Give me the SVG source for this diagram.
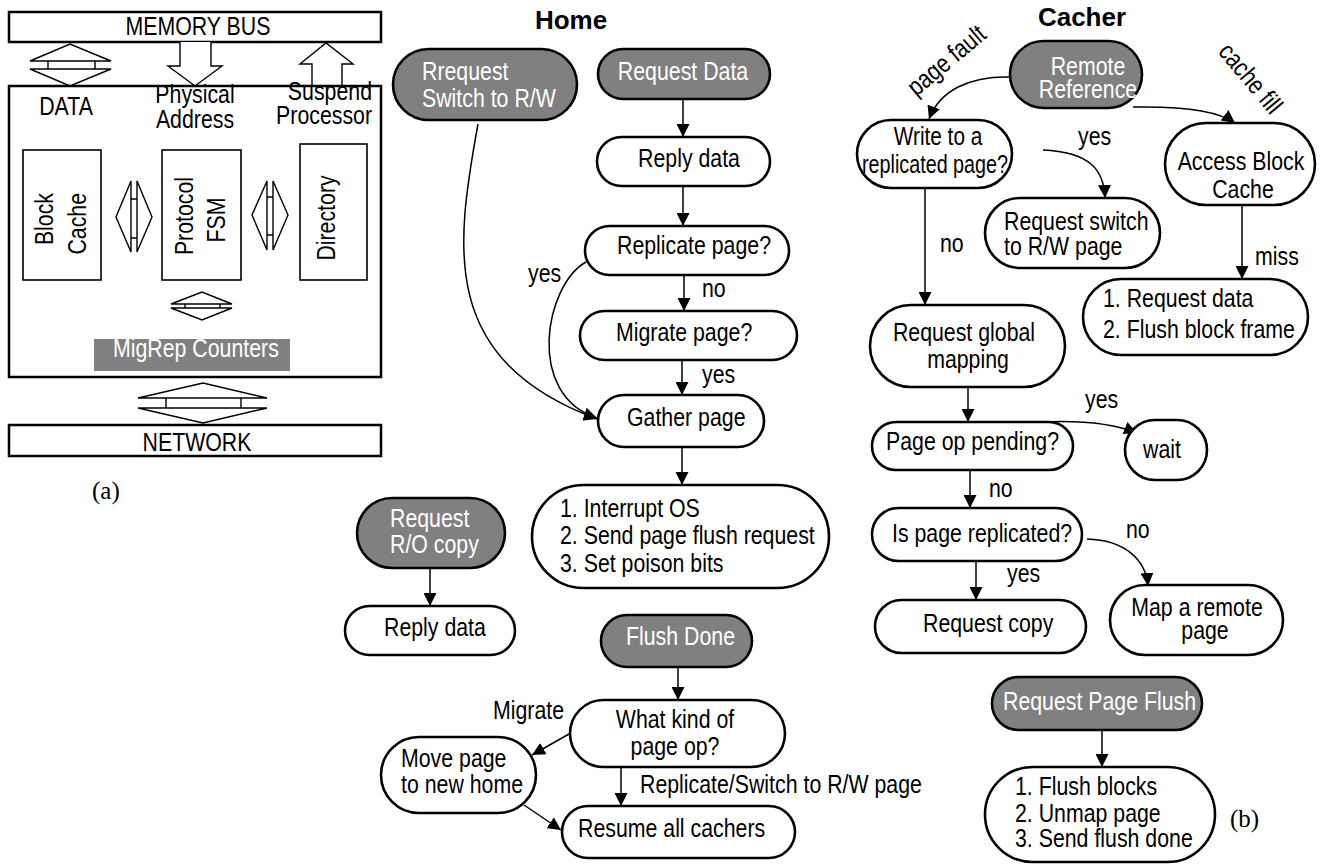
<svg xmlns="http://www.w3.org/2000/svg" width="1320" height="865" viewBox="0 0 1320 865">
<defs>
<style>
.n{fill:#fff;stroke:#000;stroke-width:2.6}
.g{fill:#808080;stroke:#000;stroke-width:2.6}
.t{font-family:"Liberation Sans",Arial,sans-serif;font-size:26px;fill:#000}
.w{fill:#fff}
.m{text-anchor:middle}
.e{text-anchor:end}
.h{font-family:"Liberation Sans",Arial,sans-serif;font-weight:bold;font-size:26px;fill:#000;text-anchor:middle}
.s{font-family:"Liberation Serif","Times New Roman",serif;font-size:25px;fill:#000}
.c{fill:none;stroke:#000;stroke-width:1.5;marker-end:url(#ah)}
.bx{fill:#fff;stroke:#000;stroke-width:2.5}
.ib{fill:#fff;stroke:#000;stroke-width:1.6}
.ar{fill:#fff;stroke:#000;stroke-width:1.4;stroke-linejoin:miter}
</style>
<marker id="ah" viewBox="0 0 13 13" refX="13" refY="6.5" markerWidth="13" markerHeight="13" markerUnits="userSpaceOnUse" orient="auto">
<path d="M0,0 L13,6.5 L0,13 Z" fill="#000"/>
</marker>
</defs>
<rect width="1320" height="865" fill="#fff"/>

<!-- Part (a) -->
<g id="part-a">
<rect class="bx" x="9" y="12" width="372" height="30"/>
<text class="t m" transform="translate(198,35) scale(.82,1)">MEMORY BUS</text>
<path class="ar" d="M30,61 L70,44 L111,61 Z M30,69 L111,69 L70,86 Z M48,61 V69 M95,61 V69"/>
<path class="ar" d="M180,42 V66 H168 L195,86 L222,66 H211 V42"/>
<path class="ar" d="M312,86 V64 H300 L326,43 L353,64 H342 V86"/>
<rect class="bx" x="9" y="86" width="372" height="291"/>
<text class="t m" transform="translate(66,115) scale(.82,1)">DATA</text>
<text class="t m" transform="translate(195,103) scale(.82,1)">Physical</text>
<text class="t m" transform="translate(195,128) scale(.82,1)">Address</text>
<text class="t e" transform="translate(372,100) scale(.82,1)">Suspend</text>
<text class="t e" transform="translate(372,124) scale(.82,1)">Processor</text>
<rect class="ib" x="23" y="150" width="78" height="130"/>
<text class="t e" transform="translate(53,193) rotate(-90) scale(.82,1)">Block</text>
<text class="t e" transform="translate(86,193) rotate(-90) scale(.82,1)">Cache</text>
<rect class="ib" x="162" y="150" width="79" height="130"/>
<text class="t m" transform="translate(193,216) rotate(-90) scale(.82,1)">Protocol</text>
<text class="t m" transform="translate(225,220) rotate(-90) scale(.82,1)">FSM</text>
<rect class="ib" x="300" y="144" width="67" height="136"/>
<text class="t m" transform="translate(335,218) rotate(-90) scale(.82,1)">Directory</text>
<path class="ar" d="M131,181 L116,217 L131,252 Z M137,181 L152,217 L137,252 Z M131,199 H137 M131,238 H137"/>
<path class="ar" d="M267,181 L252,215 L267,250 Z M273,181 L288,215 L273,250 Z M267,197 H273 M267,235 H273"/>
<path class="ar" d="M171,304 L202,292 L232,304 Z M171,308 L232,308 L202,320 Z M185,304 V308 M220,304 V308"/>
<rect x="94" y="339" width="196" height="32" fill="#808080"/>
<text class="t w" transform="translate(113,357) scale(.82,1)">MigRep Counters</text>
<path class="ar" d="M138,398 L203,383 L267,398 Z M138,408 L267,408 L203,423 Z M166,398 V408 M241,398 V408"/>
<rect class="bx" x="9" y="425" width="372" height="31"/>
<text class="t m" transform="translate(197,451) scale(.82,1)">NETWORK</text>
<text class="s" x="92" y="499">(a)</text>
</g>

<!-- Titles -->
<text class="h" x="571" y="29">Home</text>
<text class="h" x="1082" y="26">Cacher</text>

<!-- Connectors -->
<g id="connectors">
<path class="c" d="M683,99 V137"/>
<path class="c" d="M683,186 V226"/>
<path class="c" d="M684,275 V311"/>
<path class="c" d="M682,360 V395"/>
<path class="c" d="M682,447 V485"/>
<path class="c" d="M586,262 C545,285 525,395 597,418"/>
<path class="c" d="M478,124 C455,250 440,360 597,419"/>
<path class="c" d="M430,568 V606"/>
<path class="c" d="M678,667 V700"/>
<path class="c" d="M569,734 L532,755"/>
<path class="c" d="M621,767 V806"/>
<path class="c" d="M524,805 L561,830"/>
<path class="c" d="M1010,77 C970,76 940,90 929,119"/>
<path class="c" d="M1133,107 C1185,106 1220,112 1235,123"/>
<path class="c" d="M1043,150 C1090,152 1104,170 1105,198"/>
<path class="c" d="M925,188 V305"/>
<path class="c" d="M1242,205 V279"/>
<path class="c" d="M968,387 V422"/>
<path class="c" d="M1040,422 C1085,420 1115,424 1137,433"/>
<path class="c" d="M970,470 V508"/>
<path class="c" d="M1087,539 C1125,540 1146,560 1148,586"/>
<path class="c" d="M976,561 V600"/>
<path class="c" d="M1102,730 V767"/>
</g>

<!-- Home nodes -->
<g id="n-rrequest"><rect class="g" x="393" y="49" width="184" height="71" rx="35.5"/>
<text class="t w" transform="translate(422,80) scale(.82,1)">Rrequest</text>
<text class="t w" transform="translate(422,107) scale(.82,1)">Switch to R/W</text></g>
<g id="n-request-data"><rect class="g" x="598" y="49" width="172" height="50" rx="25"/>
<text class="t w m" transform="translate(683,80) scale(.82,1)">Request Data</text></g>
<g id="n-reply-data"><rect class="n" x="597" y="137" width="173" height="49" rx="24.5"/>
<text class="t m" transform="translate(689,167) scale(.82,1)">Reply data</text></g>
<g id="n-replicate"><rect class="n" x="585" y="226" width="204" height="49" rx="24.5"/>
<text class="t" transform="translate(617,254) scale(.82,1)">Replicate page?</text></g>
<g id="n-migrate"><rect class="n" x="580" y="311" width="217" height="49" rx="24.5"/>
<text class="t" transform="translate(616,341) scale(.82,1)">Migrate page?</text></g>
<g id="n-gather"><rect class="n" x="598" y="395" width="166" height="52" rx="26"/>
<text class="t" transform="translate(627,426) scale(.82,1)">Gather page</text></g>
<g id="n-interrupt"><rect class="n" x="532" y="485" width="297" height="103" rx="51.5"/>
<text class="t" transform="translate(560,517) scale(.82,1)">1. Interrupt OS</text>
<text class="t" transform="translate(560,544) scale(.82,1)">2. Send page flush request</text>
<text class="t" transform="translate(560,572) scale(.82,1)">3. Set poison bits</text></g>
<g id="n-ro-copy"><rect class="g" x="357" y="498" width="148" height="70" rx="35"/>
<text class="t w" transform="translate(390,527) scale(.82,1)">Request</text>
<text class="t w" transform="translate(390,553) scale(.82,1)">R/O copy</text></g>
<g id="n-reply-data2"><rect class="n" x="345" y="606" width="170" height="49" rx="24.5"/>
<text class="t" transform="translate(384,636) scale(.82,1)">Reply data</text></g>
<g id="n-flush-done"><rect class="g" x="601" y="615" width="151" height="52" rx="26"/>
<text class="t w" transform="translate(626,645) scale(.82,1)">Flush Done</text></g>
<g id="n-what-kind"><rect class="n" x="570" y="700" width="215" height="67" rx="33.5"/>
<text class="t m" transform="translate(675,728) scale(.82,1)">What kind of</text>
<text class="t m" transform="translate(675,755) scale(.82,1)">page op?</text></g>
<g id="n-move-page"><rect class="n" x="381" y="737" width="155" height="76" rx="38"/>
<text class="t" transform="translate(401,767) scale(.82,1)">Move page</text>
<text class="t" transform="translate(401,793) scale(.82,1)">to new home</text></g>
<g id="n-resume"><rect class="n" x="562" y="806" width="233" height="52" rx="26"/>
<text class="t" transform="translate(578,837) scale(.82,1)">Resume all cachers</text></g>

<!-- Cacher nodes -->
<g id="n-remote"><rect class="g" x="1010" y="41" width="132" height="67" rx="33.5"/>
<text class="t w m" transform="translate(1088,75) scale(.82,1)">Remote</text>
<text class="t w m" transform="translate(1088,98) scale(.82,1)">Reference</text></g>
<g id="n-write"><rect class="n" x="857" y="120" width="155" height="68" rx="34"/>
<text class="t m" transform="translate(938,145) scale(.8,1)">Write to a</text>
<text class="t m" transform="translate(935,173) scale(.76,1)">replicated page?</text></g>
<g id="n-access"><rect class="n" x="1165" y="123" width="150" height="82" rx="41"/>
<text class="t m" transform="translate(1241,170) scale(.82,1)">Access Block</text>
<text class="t m" transform="translate(1243,198) scale(.82,1)">Cache</text></g>
<g id="n-req-switch"><rect class="n" x="985" y="198" width="175" height="70" rx="35"/>
<text class="t" transform="translate(1004,230) scale(.82,1)">Request switch</text>
<text class="t" transform="translate(1004,255) scale(.82,1)">to R/W page</text></g>
<g id="n-req-data-flush"><rect class="n" x="1083" y="279" width="225" height="76" rx="38"/>
<text class="t" transform="translate(1103,307) scale(.82,1)">1. Request data</text>
<text class="t" transform="translate(1103,338) scale(.82,1)">2. Flush block frame</text></g>
<g id="n-global"><rect class="n" x="870" y="305" width="195" height="82" rx="41"/>
<text class="t m" transform="translate(964,341) scale(.82,1)">Request global</text>
<text class="t m" transform="translate(968,368) scale(.82,1)">mapping</text></g>
<g id="n-pending"><rect class="n" x="872" y="422" width="201" height="48" rx="24"/>
<text class="t" transform="translate(886,450) scale(.82,1)">Page op pending?</text></g>
<g id="n-wait"><rect class="n" x="1125" y="420" width="82" height="60" rx="30"/>
<text class="t m" transform="translate(1162,458) scale(.82,1)">wait</text></g>
<g id="n-is-replicated"><rect class="n" x="872" y="508" width="210" height="53" rx="26.5"/>
<text class="t" transform="translate(892,542) scale(.82,1)">Is page replicated?</text></g>
<g id="n-req-copy"><rect class="n" x="875" y="600" width="211" height="53" rx="26.5"/>
<text class="t" transform="translate(923,632) scale(.82,1)">Request copy</text></g>
<g id="n-map-remote"><rect class="n" x="1110" y="585" width="173" height="70" rx="35"/>
<text class="t m" transform="translate(1197,616) scale(.82,1)">Map a remote</text>
<text class="t m" transform="translate(1205,639) scale(.82,1)">page</text></g>
<g id="n-req-page-flush"><rect class="g" x="992" y="677" width="210" height="53" rx="26.5"/>
<text class="t w" transform="translate(1003,710) scale(.82,1)">Request Page Flush</text></g>
<g id="n-flush-list"><rect class="n" x="985" y="767" width="230" height="95" rx="47.5"/>
<text class="t" transform="translate(1015,795) scale(.82,1)">1. Flush blocks</text>
<text class="t" transform="translate(1015,822) scale(.82,1)">2. Unmap page</text>
<text class="t" transform="translate(1015,847) scale(.82,1)">3. Send flush done</text></g>

<!-- Connector labels -->
<g id="labels">
<text class="t" transform="translate(528,282) scale(.82,1)">yes</text>
<text class="t" transform="translate(702,297) scale(.82,1)">no</text>
<text class="t" transform="translate(702,383) scale(.82,1)">yes</text>
<text class="t" transform="translate(493,719) scale(.82,1)">Migrate</text>
<text class="t" transform="translate(640,793) scale(.82,1)">Replicate/Switch to R/W page</text>
<text class="t m" transform="translate(952,67) rotate(-40) scale(.82,1)">page fault</text>
<text class="t m" transform="translate(1244,84) rotate(50) scale(.82,1)">cache fill</text>
<text class="t" transform="translate(1078,145) scale(.82,1)">yes</text>
<text class="t" transform="translate(940,252) scale(.82,1)">no</text>
<text class="t" transform="translate(1255,265) scale(.82,1)">miss</text>
<text class="t" transform="translate(1085,408) scale(.82,1)">yes</text>
<text class="t" transform="translate(989,497) scale(.82,1)">no</text>
<text class="t" transform="translate(1126,538) scale(.82,1)">no</text>
<text class="t" transform="translate(1007,582) scale(.82,1)">yes</text>
<text class="s" x="1230" y="827">(b)</text>
</g>
</svg>
